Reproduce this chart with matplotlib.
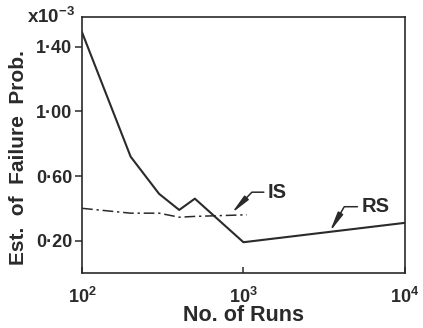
import numpy as np
import matplotlib
matplotlib.use("Agg")
import matplotlib.pyplot as plt

plt.rcParams['font.family'] = ['Liberation Sans', 'DejaVu Sans']
plt.rcParams['font.weight'] = 'bold'
plt.rcParams['mathtext.fontset'] = 'custom'
plt.rcParams['mathtext.rm'] = 'Liberation Sans:bold'
plt.rcParams['mathtext.it'] = 'Liberation Sans:bold'
plt.rcParams['mathtext.bf'] = 'Liberation Sans:bold'

# estimates in units of 1e-3
rs_runs = [100, 200, 300, 400, 500, 1000, 10000]
rs_prob = [1.49, 0.72, 0.49, 0.39, 0.46, 0.19, 0.31]

is_runs = [100, 200, 300, 400, 500, 1050]
is_prob = [0.40, 0.37, 0.37, 0.345, 0.35, 0.36]

yticks = [0.20, 0.60, 1.00, 1.40]
ytick_labels = ['0·20', '0·60', '1·00', '1·40']
xticks = [100, 1000, 10000]
xtick_labels = ['$10^2$', '$10^3$', '$10^4$']

col = '#2a2a2a'

fig = plt.figure(figsize=(4.23, 3.28), dpi=100)
ax = fig.add_axes([0.194, 0.168, 0.763, 0.780])

ax.plot(rs_runs, rs_prob, color=col, lw=1.5)
ax.plot(is_runs, is_prob, color=col, lw=1.1, linestyle=(0, (7, 2.5, 1.5, 2.5)))

ax.set_xscale('log')
ax.set_xlim(100, 10000)
ax.set_ylim(0.0, 1.585)

ax.set_yticks(yticks)
ax.set_yticklabels(ytick_labels, fontsize=13, fontweight='bold', color=col)
ax.set_xticks(xticks)
ax.set_xticklabels(xtick_labels, fontsize=13, color=col)
ax.minorticks_off()
ax.tick_params(axis='y', direction='out', length=5, width=1.1, color=col, pad=2)
ax.tick_params(axis='x', direction='in', length=4, width=1.1, color=col, pad=10)

for s in ax.spines.values():
    s.set_color(col)
    s.set_linewidth(1.2)

ax.set_xlabel('No. of Runs', fontsize=15.5, fontweight='bold', color=col, labelpad=-1)
ax.set_ylabel('Est.  of  Failure  Prob.', fontsize=15, fontweight='bold', color=col,
              ha='center', va='center')
ax.yaxis.set_label_coords(-0.197, 0.45)

fig.text(0.178, 0.947, r'x$10^{-3}$', fontsize=13.5, ha='right', va='center', color=col)

arrow = dict(arrowstyle='-|>,head_length=0.8,head_width=0.12', color=col, lw=1.1,
             shrinkA=1, shrinkB=0)
ax.annotate('IS', xy=(845, 0.37), xytext=(1420, 0.50), fontsize=14.5, fontweight='bold',
            color=col, ha='left', va='center',
            arrowprops=dict(arrow, connectionstyle='angle,angleA=0,angleB=46,rad=0'))
ax.annotate('RS', xy=(3430, 0.255), xytext=(5400, 0.41), fontsize=14.5, fontweight='bold',
            color=col, ha='left', va='center',
            arrowprops=dict(arrow, connectionstyle='angle,angleA=0,angleB=60,rad=0'))

fig.savefig('out.png', dpi=100)
